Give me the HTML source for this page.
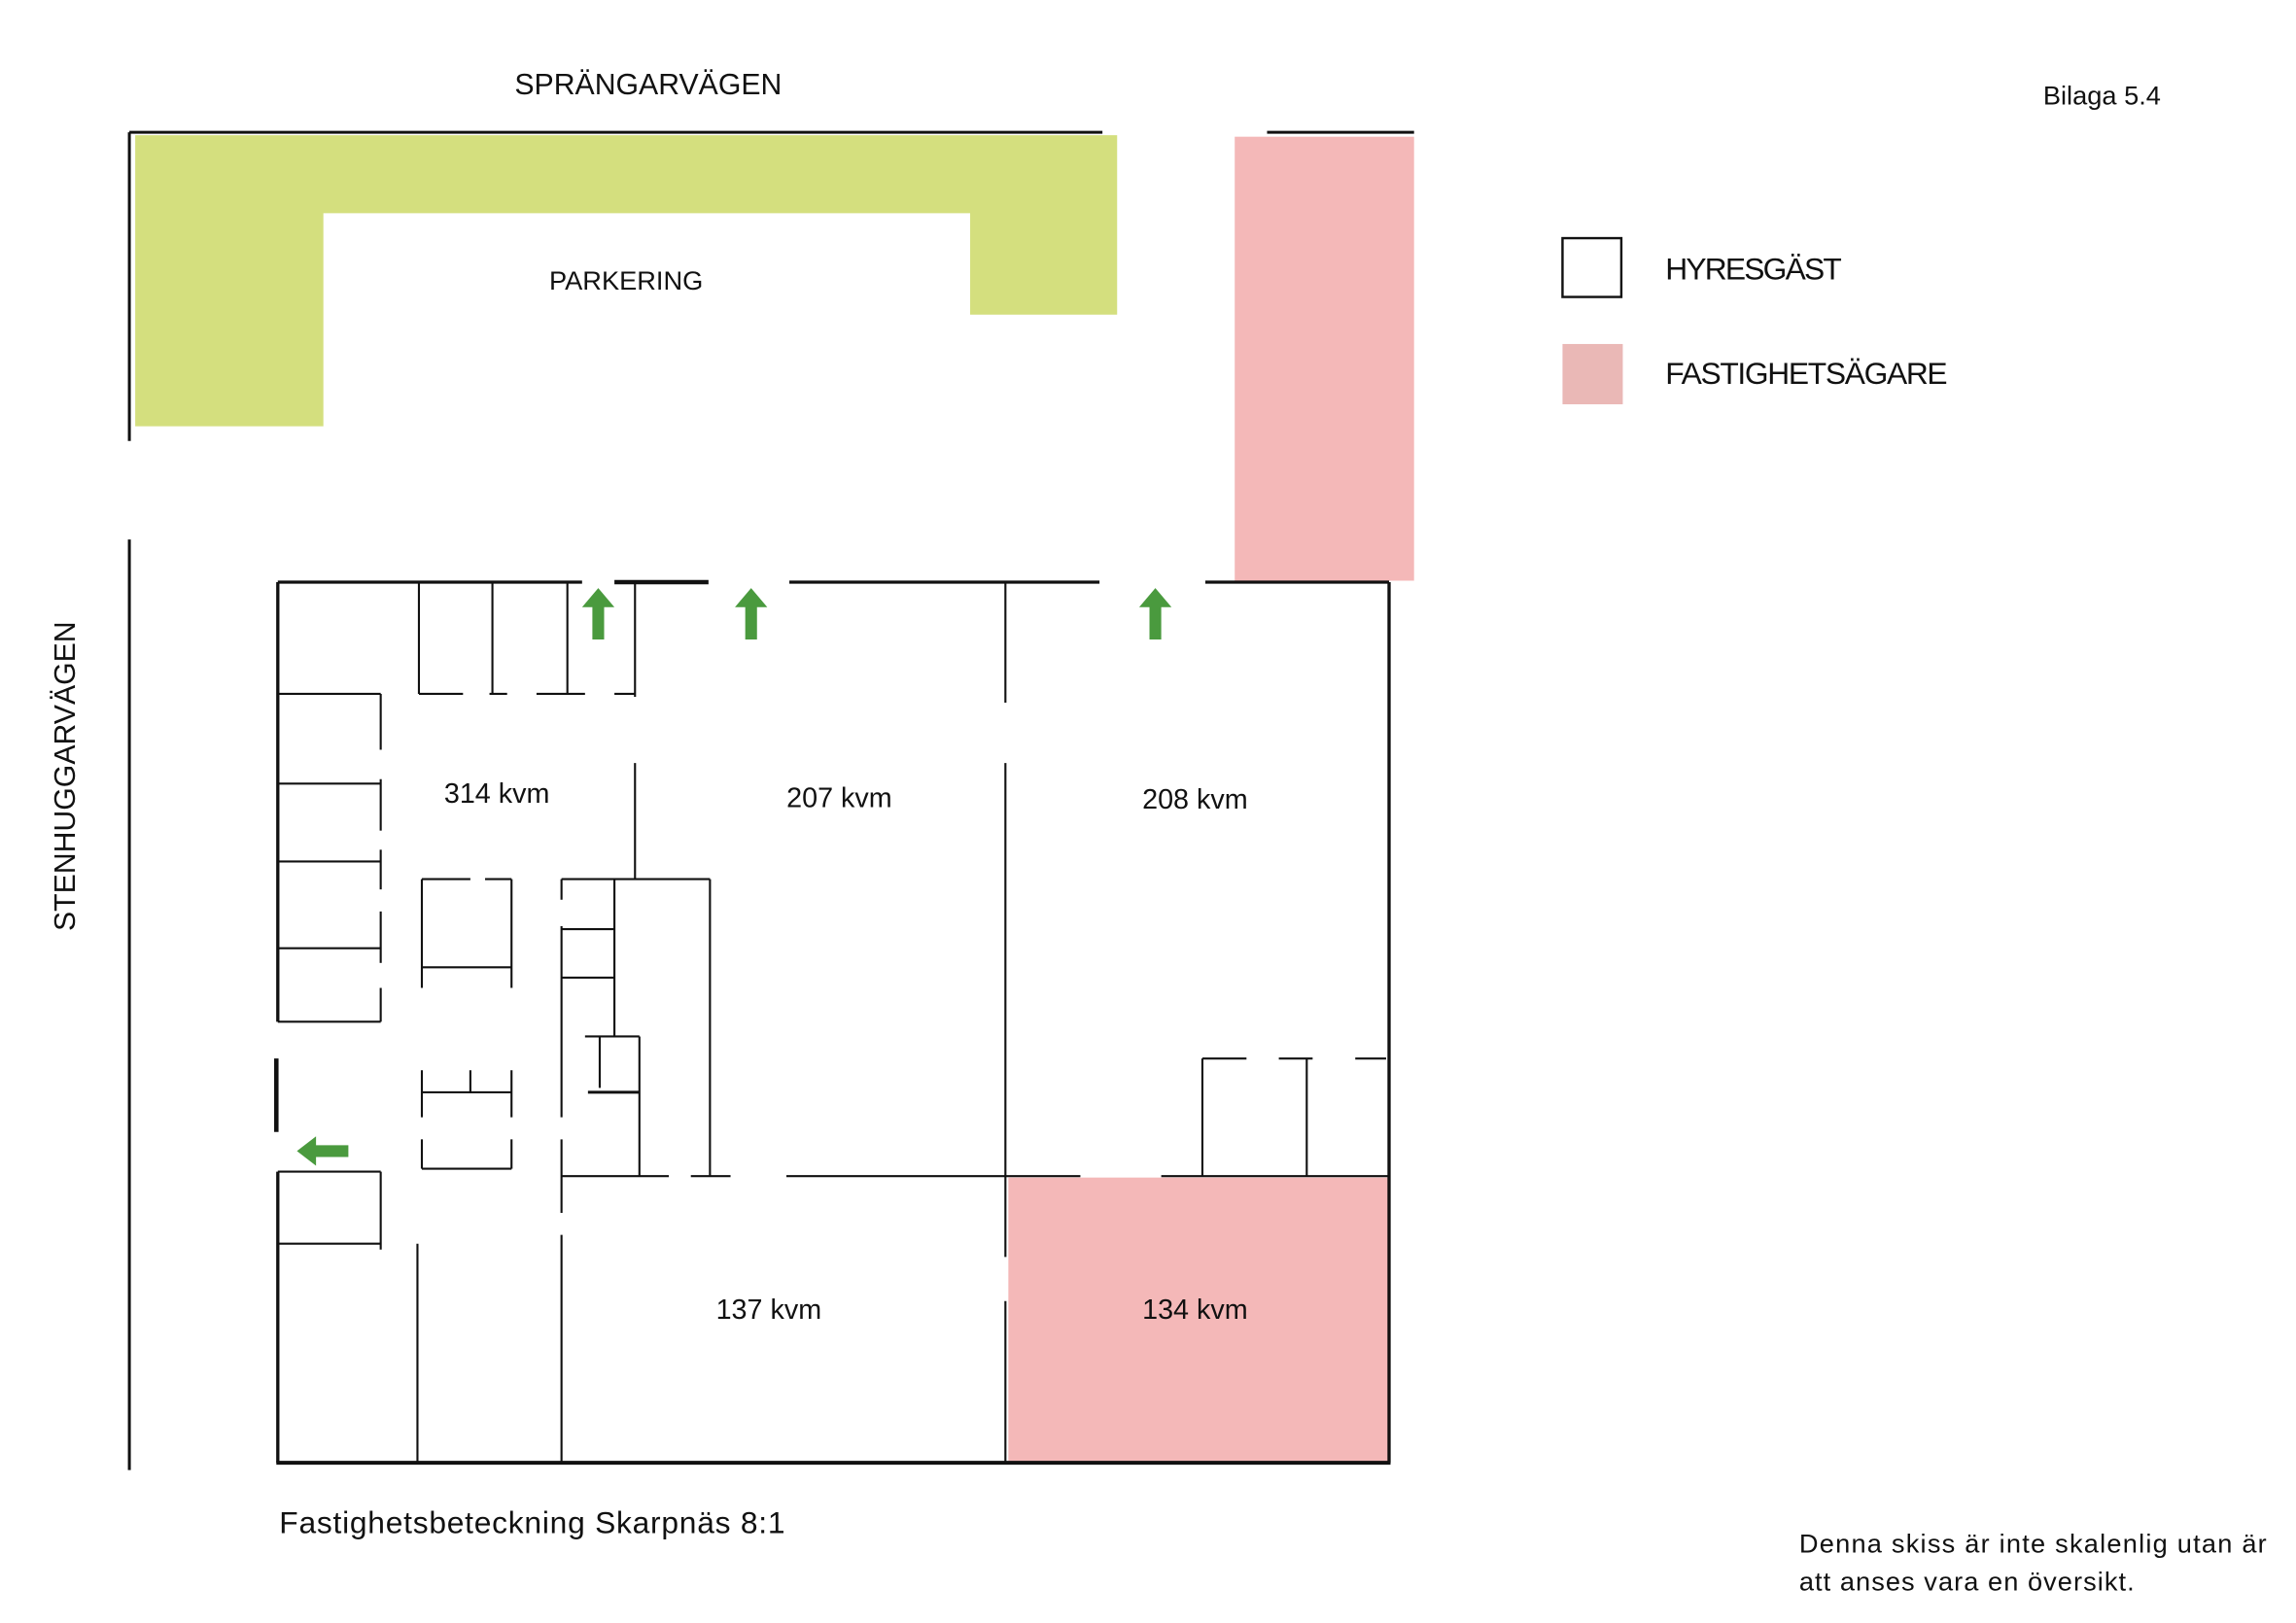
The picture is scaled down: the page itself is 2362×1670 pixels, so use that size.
<!DOCTYPE html>
<html><head><meta charset="utf-8"><style>
html,body{margin:0;padding:0;background:#fff}
svg{display:block}
text{font-family:"Liberation Sans",sans-serif;fill:#111}
</style></head><body>
<svg width="2362" height="1670" viewBox="0 0 1562 1104" preserveAspectRatio="none" xmlns="http://www.w3.org/2000/svg">
<rect width="1562" height="1104" fill="#fff"/>
<g stroke="#111" stroke-width="2" fill="none">
<line x1="88" y1="90" x2="750" y2="90"/>
<line x1="862" y1="90" x2="962" y2="90"/>
<line x1="88" y1="90" x2="88" y2="300"/>
<line x1="88" y1="367" x2="88" y2="1000"/>
</g>
<polygon points="92,92 760,92 760,214 660,214 660,145 220,145 220,290 92,290" fill="#d4df7e"/>
<rect x="840" y="93" width="122" height="302" fill="#f4b8b8"/>
<rect x="686" y="801" width="258" height="193" fill="#f4b8b8"/>
<g stroke="#111" fill="none" stroke-width="2.2">
<line x1="189" y1="396" x2="189" y2="695"/>
<line x1="188" y1="720" x2="188" y2="770" stroke-width="3"/>
<line x1="189" y1="797" x2="189" y2="995"/>
<line x1="188" y1="995" x2="946" y2="995" stroke-width="2.6"/>
<line x1="945" y1="396" x2="945" y2="995"/>
<line x1="189" y1="396" x2="396" y2="396"/>
<line x1="418" y1="396" x2="482" y2="396" stroke-width="3"/>
<line x1="537" y1="396" x2="748" y2="396"/>
<line x1="820" y1="396" x2="945" y2="396"/>
</g>
<g stroke="#111" fill="none" stroke-width="1.4">
<line x1="285" y1="396" x2="285" y2="472"/>
<line x1="335" y1="396" x2="335" y2="472"/>
<line x1="386" y1="396" x2="386" y2="472"/>
<line x1="432" y1="396" x2="432" y2="474"/>
<line x1="189" y1="472" x2="259" y2="472"/>
<line x1="285" y1="472" x2="315" y2="472"/>
<line x1="333" y1="472" x2="345" y2="472"/>
<line x1="365" y1="472" x2="398" y2="472"/>
<line x1="418" y1="472" x2="432" y2="472"/>
<line x1="259" y1="472" x2="259" y2="510"/>
<line x1="259" y1="530" x2="259" y2="565"/>
<line x1="259" y1="578" x2="259" y2="605"/>
<line x1="259" y1="620" x2="259" y2="655"/>
<line x1="259" y1="672" x2="259" y2="695"/>
<line x1="189" y1="533" x2="259" y2="533"/>
<line x1="189" y1="586" x2="259" y2="586"/>
<line x1="189" y1="645" x2="259" y2="645"/>
<line x1="189" y1="695" x2="259" y2="695"/>
<line x1="432" y1="519" x2="432" y2="598"/>
<line x1="287" y1="598" x2="320" y2="598"/>
<line x1="330" y1="598" x2="348" y2="598"/>
<line x1="287" y1="598" x2="287" y2="672"/>
<line x1="348" y1="598" x2="348" y2="672"/>
<line x1="287" y1="658" x2="348" y2="658"/>
<line x1="382" y1="598" x2="483" y2="598"/>
<line x1="483" y1="598" x2="483" y2="800"/>
<line x1="418" y1="598" x2="418" y2="705"/>
<line x1="382" y1="632" x2="418" y2="632"/>
<line x1="382" y1="665" x2="418" y2="665"/>
<line x1="382" y1="598" x2="382" y2="612"/>
<line x1="382" y1="630" x2="382" y2="760"/>
<line x1="382" y1="775" x2="382" y2="825"/>
<line x1="398" y1="705" x2="435" y2="705"/>
<line x1="435" y1="705" x2="435" y2="800"/>
<line x1="408" y1="705" x2="408" y2="740"/>
<line x1="400" y1="743" x2="435" y2="743" stroke-width="2"/>
<line x1="287" y1="743" x2="348" y2="743"/>
<line x1="320" y1="728" x2="320" y2="743"/>
<line x1="287" y1="728" x2="287" y2="760"/>
<line x1="348" y1="728" x2="348" y2="760"/>
<line x1="287" y1="775" x2="287" y2="795"/>
<line x1="348" y1="775" x2="348" y2="795"/>
<line x1="287" y1="795" x2="348" y2="795"/>
<line x1="189" y1="797" x2="259" y2="797"/>
<line x1="259" y1="797" x2="259" y2="850"/>
<line x1="189" y1="846" x2="259" y2="846"/>
<line x1="284" y1="846" x2="284" y2="995"/>
<line x1="382" y1="840" x2="382" y2="995"/>
<line x1="382" y1="800" x2="455" y2="800"/>
<line x1="470" y1="800" x2="497" y2="800"/>
<line x1="535" y1="800" x2="684" y2="800"/>
<line x1="684" y1="396" x2="684" y2="478"/>
<line x1="684" y1="519" x2="684" y2="855"/>
<line x1="684" y1="885" x2="684" y2="995"/>
<line x1="684" y1="800" x2="735" y2="800"/>
<line x1="790" y1="800" x2="945" y2="800"/>
<line x1="818" y1="720" x2="848" y2="720"/>
<line x1="870" y1="720" x2="893" y2="720"/>
<line x1="922" y1="720" x2="943" y2="720"/>
<line x1="818" y1="720" x2="818" y2="800"/>
<line x1="889" y1="720" x2="889" y2="800"/>
</g>
<g fill="#4a9a3e">
<polygon points="407,400 418,413 411,413 411,435 403,435 403,413 396,413"/>
<polygon points="511,400 522,413 515,413 515,435 507,435 507,413 500,413"/>
<polygon points="786,400 797,413 790,413 790,435 782,435 782,413 775,413"/>
<polygon points="202,783 215,773 215,779 237,779 237,787 215,787 215,793"/>
</g>
<rect x="1063" y="162" width="40" height="40" fill="#fff" stroke="#111" stroke-width="1.6"/>
<rect x="1063" y="234" width="41" height="41" fill="#eab8b6"/>
<text x="1133" y="190" font-size="21" textLength="120">HYRESGÄST</text>
<text x="1133" y="261" font-size="21" textLength="192">FASTIGHETSÄGARE</text>
<text x="441" y="64" font-size="20" text-anchor="middle">SPRÄNGARVÄGEN</text>
<text x="1430" y="71" font-size="18" text-anchor="middle">Bilaga 5.4</text>
<text x="426" y="197" font-size="18" text-anchor="middle">PARKERING</text>
<text transform="translate(51,528) rotate(-90)" font-size="20" text-anchor="middle">STENHUGGARVÄGEN</text>
<text x="338" y="546" font-size="19" text-anchor="middle">314 kvm</text>
<text x="571" y="549" font-size="19" text-anchor="middle">207 kvm</text>
<text x="813" y="550" font-size="19" text-anchor="middle">208 kvm</text>
<text x="523" y="897" font-size="19" text-anchor="middle">137 kvm</text>
<text x="813" y="897" font-size="19" text-anchor="middle">134 kvm</text>
<text x="190" y="1043" font-size="21" textLength="344">Fastighetsbeteckning Skarpnäs 8:1</text>
<text x="1224" y="1056" font-size="18" textLength="318">Denna skiss är inte skalenlig utan är</text>
<text x="1224" y="1082" font-size="18" textLength="228">att anses vara en översikt.</text>
</svg>
</body></html>
